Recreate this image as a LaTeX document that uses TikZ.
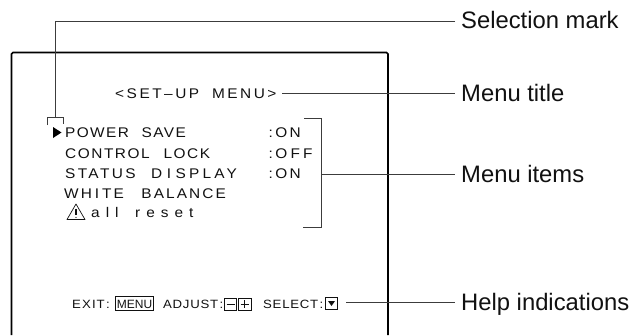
\documentclass[tikz,border=0pt]{standalone}
\usepackage{fontspec}
\setmainfont{Liberation Sans}
\newfontfamily\menufont[FakeStretch=1.1,LetterSpace=15,WordSpace=1]{Liberation Sans}
\newfontfamily\lowfont[FakeStretch=1.1,LetterSpace=43,WordSpace=1.6]{Liberation Sans}
\newfontfamily\helpfont[FakeStretch=1.1,LetterSpace=10,WordSpace=1.5]{Liberation Sans}
\newcommand{\lsp}[2]{{\addfontfeatures{LetterSpace=#1}#2}}
\definecolor{ink}{HTML}{111111}
\definecolor{leader}{HTML}{3C3C3C}
\tikzset{
  callout/.style={anchor=base west,inner sep=0pt,text=ink,font=\fontsize{23.8}{24}\selectfont},
  menutext/.style={anchor=base west,inner sep=0pt,text=ink,font=\menufont\fontsize{14}{14}\selectfont},
  lowtext/.style={anchor=base west,inner sep=0pt,text=ink,font=\lowfont\fontsize{14}{14}\selectfont},
  helptext/.style={anchor=base west,inner sep=0pt,text=ink,font=\helpfont\fontsize{12}{12}\selectfont},
  keybox/.style={draw=ink,line width=0.8pt},
  leaderline/.style={draw=leader,line width=0.8pt},
  frameline/.style={draw=black,line width=1.7pt,rounded corners=1.5pt}
}
\begin{document}
\begin{tikzpicture}[x=1pt,y=-1pt]
\useasboundingbox (0,0) rectangle (644,335);
\fill[white] (0,0) rectangle (644,335);
% screen frame
\draw[frameline] (11.5,335) -- (11.5,52.5) -- (388,52.5) -- (388,335);
% texts
\node[menutext] (title) at (115,98) {\lsp{18}{<SET–UP\hspace{6pt} MENU>}};
\node[menutext] (it1) at (65,137.5) {\lsp{10}{POWER\hspace{7pt} SAVE}};
\node[menutext] (it2) at (65,158) {\lsp{11}{CONTROL\hspace{8pt} LOCK}};
\node[menutext] (it3) at (65,178) {\lsp{17}{STATUS\hspace{9pt} }\lsp{23}{D\hspace{4.5pt}I\hspace{4.5pt}SPLAY}};
\node[menutext] (it4) at (64,198) {\lsp{15}{WH\hspace{3pt}I\hspace{3pt}TE\hspace{11pt} BALANCE}};
\node[lowtext] (it5) at (91,217.7) {all reset};
\node[menutext] (v1) at (268.5,137.5) {:\hspace{2.5pt}ON};
\node[menutext] (v2) at (268.5,158) {:\hspace{2.5pt}\lsp{22}{OFF}};
\node[menutext] (v3) at (268.5,178) {:\hspace{2.5pt}ON};
% selection arrow
\fill[black] (53,127) -- (61.5,132.5) -- (53,138) -- cycle;
% warning triangle
\draw[ink,line width=0.7pt,line join=round] (76,204) -- (85,219.5) -- (67,219.5) -- cycle;
\draw[ink,line width=1.1pt] (76,208.5) -- (76,215);
\fill[ink] (76,217.5) circle (0.7);
% help row
\node[helptext] (exit) at (72,308) {EX\hspace{1pt}I\hspace{1pt}T\hspace{1.5pt}:};
\node[anchor=center,inner sep=0pt,text=ink,font=\fontsize{12}{12}\selectfont] (menu) at (134.5,304) {MENU};
\draw[keybox,line width=1.1pt] (115.5,296.5) rectangle (153.5,310.5);
\node[helptext] (adj) at (163,308) {\lsp{6}{ADJUST\hspace{1.5pt}:}};
\draw[keybox] (224.5,298) rectangle (236.5,310);
\draw[ink,line width=0.8pt] (226.5,304) -- (234.5,304);
\draw[keybox] (238.5,298) rectangle (251,310);
\draw[ink,line width=0.8pt] (240.5,304) -- (249,304) (244.75,300) -- (244.75,308);
\node[helptext] (sel) at (263,308) {\lsp{6}{SELECT\hspace{1.5pt}:}};
\draw[keybox] (325.5,297.5) rectangle (337.5,309.5);
\fill[ink] (328,301) -- (335,301) -- (331.5,306) -- cycle;
% callout labels
\node[callout] (lsel) at (461,28) {Selection mark};
\node[callout] (ltit) at (461,101) {Menu title};
\node[callout] (litm) at (461,182.7) {Menu items};
\node[callout] (lhlp) at (461,310) {Help indications};
% leader ends
\coordinate (s1) at (455,21);
\coordinate (s2) at (55,21);
\coordinate (s3) at (55,117.5);
\coordinate (t1) at (282,93.5);
\coordinate (t2) at (455,93.5);
\coordinate (m1) at (321,174.5);
\coordinate (m2) at (455,174.5);
\coordinate (h1) at (346,302);
\coordinate (h2) at (455,302);
% leaders
\draw[leaderline] (s1) -- (s2) -- (s3);
\draw[leaderline] (47.5,125) -- (47.5,117.5) -- (63.5,117.5) -- (63.5,124);
\draw[leaderline] (t1) -- (t2);
\draw[leaderline] (304,118) -- (321,118) -- (321,227) -- (303,227);
\draw[leaderline] (m1) -- (m2);
\draw[leaderline] (h1) -- (h2);
\end{tikzpicture}
\end{document}
